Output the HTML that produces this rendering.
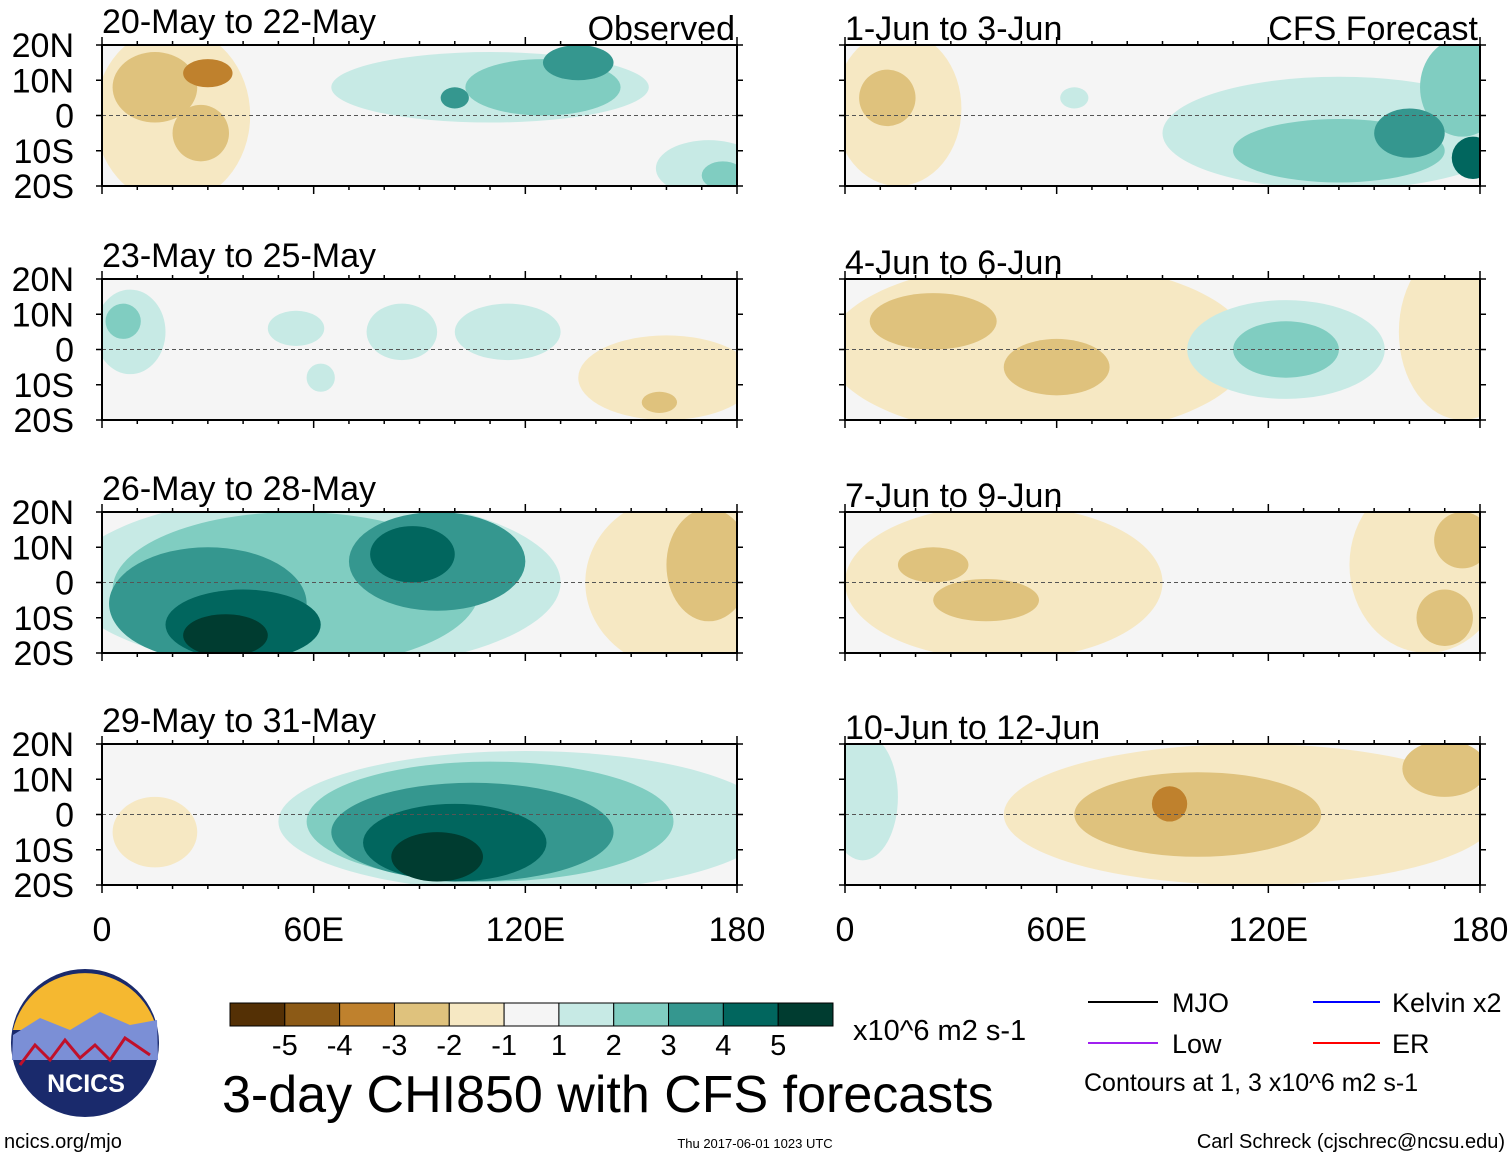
<!DOCTYPE html>
<html><head><meta charset="utf-8"><style>
body{margin:0;background:#fff;}
svg{display:block;font-family:"Liberation Sans",sans-serif;}
</style></head><body>
<svg id="chart" width="1510" height="1158" viewBox="0 0 1510 1158" xmlns="http://www.w3.org/2000/svg">
<defs></defs>
<g id="panels"></g>
<g id="static">
  <g>
    <circle cx="85" cy="1043" r="74" fill="#1a2a6c"/>
    <path d="M13 1030 A74 74 0 0 1 157 1030 Z" fill="#f5b830"/>
    <path d="M13 1035 L40 1018 L70 1030 L100 1012 L130 1025 L157 1020 L158 1060 L12 1060 Z" fill="#7b8fd6"/>
    <path d="M20 1065 L35 1045 L50 1060 L65 1040 L80 1058 L95 1045 L110 1060 L125 1038 L150 1055" stroke="#c0102a" stroke-width="3" fill="none"/>
    <text x="86" y="1092" font-size="25" font-weight="bold" fill="#fff" text-anchor="middle">NCICS</text>
  </g>
  <text x="4" y="1148" font-size="20">ncics.org/mjo</text>
  <text x="755" y="1148" font-size="13" text-anchor="middle">Thu 2017-06-01 1023 UTC</text>
  <text x="1505" y="1148" font-size="20" text-anchor="end">Carl Schreck (cjschrec@ncsu.edu)</text>
  <text x="222" y="1112" font-size="52">3-day CHI850 with CFS forecasts</text>
  <text x="853" y="1040" font-size="29">x10^6 m2 s-1</text>
  <g>
    <line x1="1088" y1="1002" x2="1158" y2="1002" stroke="#000" stroke-width="2"/>
    <text x="1172" y="1012" font-size="27">MJO</text>
    <line x1="1313" y1="1002" x2="1380" y2="1002" stroke="#0000ff" stroke-width="2"/>
    <text x="1392" y="1012" font-size="27">Kelvin x2</text>
    <line x1="1088" y1="1043" x2="1158" y2="1043" stroke="#a020f0" stroke-width="2"/>
    <text x="1172" y="1053" font-size="27">Low</text>
    <line x1="1313" y1="1043" x2="1380" y2="1043" stroke="#ff0000" stroke-width="2"/>
    <text x="1392" y="1053" font-size="27">ER</text>
    <text x="1084" y="1091" font-size="25">Contours at 1, 3 x10^6 m2 s-1</text>
  </g>
</g>
</svg>
<script>
const levelColors = ["#543005","#8c5a16","#bf812d","#dfc27d","#f6e8c3","#f5f5f5","#c7eae5","#80cdc1","#35978f","#01665e","#003c30"];
const cbLabels = ["-5","-4","-3","-2","-1","1","2","3","4","5"];
const panelTitles = ["20-May to 22-May","23-May to 25-May","26-May to 28-May","29-May to 31-May","1-Jun to 3-Jun","4-Jun to 6-Jun","7-Jun to 9-Jun","10-Jun to 12-Jun"];
const latTicks = [20,10,0,-10,-20];
const latLabels = ["20N","10N","0","10S","20S"];
const lonTicks = [0,60,120,180];
const lonLabels = ["0","60E","120E","180"];
// blobs: [lon, lat, halfWidthLon, halfHeightLat, level(-5..5)]
const blobs0 = [[20,0,22,25,-1],[15,8,12,10,-2],[28,-5,8,8,-2],[30,12,7,4,-3],[110,8,45,10,1],[125,8,22,8,2],[135,15,10,5,3],[100,5,4,3,3],[172,-15,15,8,1],[176,-17,6,4,2]];
const blobs1 = [[8,5,10,12,1],[6,8,5,5,2],[55,6,8,5,1],[85,5,10,8,1],[115,5,15,8,1],[62,-8,4,4,1],[160,-8,25,12,-1],[158,-15,5,3,-2]];
const blobs2 = [[60,0,70,25,1],[55,-2,52,22,2],[30,-6,28,16,3],[95,6,25,14,3],[40,-12,22,10,4],[88,8,12,8,4],[35,-15,12,6,5],[165,0,28,25,-1],[172,5,12,16,-2]];
const blobs3 = [[120,-2,70,20,1],[110,-2,52,17,2],[105,-5,40,14,3],[100,-8,26,11,4],[95,-12,13,7,5],[15,-5,12,10,-1]];
const blobs4 = [[15,2,18,22,-1],[12,5,8,8,-2],[140,-5,50,16,1],[140,-10,30,9,2],[175,8,12,14,2],[160,-5,10,7,3],[178,-12,6,6,4],[65,5,4,3,1]];
const blobs5 = [[55,0,60,25,-1],[25,8,18,8,-2],[60,-5,15,8,-2],[175,5,18,25,-1],[125,0,28,14,1],[125,0,15,8,2]];
const blobs6 = [[45,0,45,22,-1],[40,-5,15,6,-2],[25,5,10,5,-2],[165,5,22,25,-1],[175,12,8,8,-2],[170,-10,8,8,-2]];
const blobs7 = [[115,0,70,20,-1],[100,0,35,12,-2],[92,3,5,5,-3],[170,13,12,8,-2],[5,5,10,18,1]];
const allBlobs = [blobs0,blobs1,blobs2,blobs3,blobs4,blobs5,blobs6,blobs7];
const panelX = [102,845];
const panelY = [45,279,512,744];
const PW = 635, PH = 141;
const NS = "http://www.w3.org/2000/svg";
function mk(t,a,p){const e=document.createElementNS(NS,t);for(const k in a)e.setAttribute(k,a[k]);p.appendChild(e);return e;}
const root = document.getElementById('panels');
const defs = document.querySelector('defs');
for(let i=0;i<8;i++){
  const col = i<4?0:1, row=i%4;
  const x0=panelX[col], y0=panelY[row];
  const xs = lon => x0 + lon/180*PW;
  const ys = lat => y0 + (20-lat)/40*PH;
  const g = mk('g',{},root);
  
  
  const cp = mk('clipPath',{id:'cp'+i},defs);
  mk('rect',{x:x0,y:y0,width:PW,height:PH},cp);
  const inner = mk('g',{'clip-path':'url(#cp'+i+')'},g);
  mk('rect',{x:x0,y:y0,width:PW,height:PH,fill:'#f5f5f5'},inner);
  const sorted = allBlobs[i].slice().sort((a,b)=>Math.abs(a[4])-Math.abs(b[4]));
  for(const b of sorted){
    const idx = 5+b[4];
    const e = mk('ellipse',{cx:xs(b[0]),cy:ys(b[1]),rx:b[2]/180*PW,ry:b[3]/40*PH,fill:levelColors[idx]},inner);
    
    
  }
  const eq = mk('line',{x1:x0,y1:ys(0),x2:x0+PW,y2:ys(0),stroke:'#555','stroke-dasharray':'4,3','stroke-width':1},inner);
  
  
  const fr = mk('rect',{x:x0,y:y0,width:PW,height:PH,fill:'none',stroke:'#000','stroke-width':2},g);
  
  
  for(let lon=0;lon<=180;lon+=10){
    const len = lon%60===0?8:4;
    mk('line',{x1:xs(lon),y1:y0,x2:xs(lon),y2:y0-len,stroke:'#000','stroke-width':1.5},g);
    mk('line',{x1:xs(lon),y1:y0+PH,x2:xs(lon),y2:y0+PH+len,stroke:'#000','stroke-width':1.5},g);
  }
  for(const lat of latTicks){
    mk('line',{x1:x0,y1:ys(lat),x2:x0-6,y2:ys(lat),stroke:'#000','stroke-width':1.5},g);
    mk('line',{x1:x0+PW,y1:ys(lat),x2:x0+PW+6,y2:ys(lat),stroke:'#000','stroke-width':1.5},g);
  }
  const t = mk('text',{x:x0,y:y0-(col?5:12),'font-size':34},g);
  t.textContent = panelTitles[i];
  
  
  if(row===0){
    const s = mk('text',{x:x0+PW-2,y:y0-5,'font-size':34,'text-anchor':'end'},g);
    s.textContent = col?'CFS Forecast':'Observed';
    
    
  }
  if(col===0){
    latTicks.forEach((lat,k)=>{
      const l = mk('text',{x:74,y:ys(lat)+12,'font-size':34,'text-anchor':'end'},g);
      l.textContent = latLabels[k];
      
      
    });
  }
  if(row===3){
    lonTicks.forEach((lon,k)=>{
      const l = mk('text',{x:xs(lon),y:941,'font-size':34,'text-anchor':'middle'},g);
      l.textContent = lonLabels[k];
      
      
    });
  }
}
const cb = mk('g',{},document.getElementById('static'));


const cbX=230, cbW=603, cbY=1003, cbH=23, bw=cbW/levelColors.length;
levelColors.forEach((c,k)=>{
  const r = mk('rect',{x:cbX+k*bw,y:cbY,width:bw,height:cbH,fill:c,stroke:'#000','stroke-width':1},cb);
  
  
});
cbLabels.forEach((s,k)=>{
  const l = mk('text',{x:cbX+(k+1)*bw,y:1055,'font-size':29,'text-anchor':'middle'},cb);
  l.textContent = s;
  
  
});
</script>
</body></html>
